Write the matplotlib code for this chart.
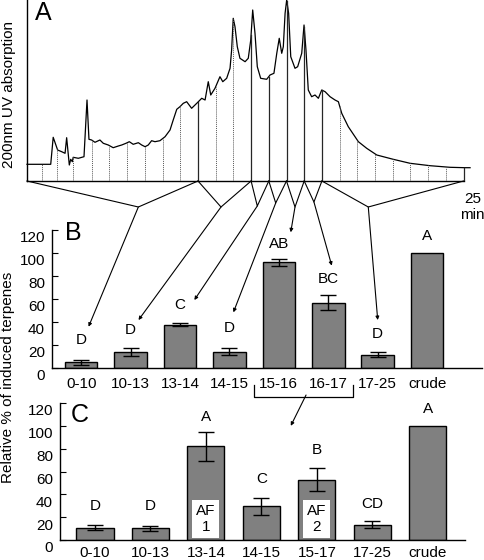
import numpy as np
import matplotlib
matplotlib.use("Agg")
import matplotlib.pyplot as plt
from matplotlib.transforms import ScaledTranslation

plt.rcParams['font.family'] = ['Liberation Sans', 'DejaVu Sans']
plt.rcParams['font.size'] = 11

# === Panel A: chromatogram (minutes, arbitrary absorbance) ===
trace_t = [0.34, 1.68, 1.82, 2.07, 2.30, 2.49, 2.58, 2.73, 2.81, 2.90, 2.95, 3.24, 3.56,
           3.73, 3.84, 3.99, 4.18, 4.46, 4.65, 4.93, 5.21, 5.50, 5.69, 5.93, 6.12, 6.34,
           6.63, 6.82, 7.01, 7.19, 7.38, 7.57, 7.85, 8.14, 8.42, 8.60, 8.80, 8.98, 9.17,
           9.36, 9.64, 9.93, 10.21, 10.40, 10.58, 10.72, 10.96, 11.24, 11.40, 11.62, 11.81,
           11.90, 11.99, 12.09, 12.22, 12.37, 12.66, 12.84, 12.98, 13.09, 13.22, 13.35,
           13.54, 13.88, 14.07, 14.29, 14.45, 14.59, 14.73, 14.82, 14.92, 15.01, 15.12,
           15.24, 15.48, 15.63, 15.86, 15.99, 16.10, 16.23, 16.42, 16.61, 16.80, 16.99,
           17.18, 17.46, 17.74, 17.93, 18.12, 18.49, 19.06, 19.53, 20.10, 21.03, 21.98,
           23.11, 24.24, 25.08, 25.37]
trace_a = [16.7, 16.7, 43.7, 31, 29.3, 27.7, 43.3, 16, 21.7, 19.3, 23.7, 22.7, 24.3,
           81, 41.7, 41, 38.7, 41, 37.7, 36, 33.3, 35, 36, 37.7, 39.3, 36.7,
           38.3, 36, 34.3, 36, 40.3, 39.3, 40.3, 44.3, 51, 61, 71.7, 74.3, 77.7,
           79.3, 72.7, 77.7, 82.7, 81, 99.3, 86, 92.7, 104.3, 99.3, 102.7, 112.7,
           131, 162.7, 154.3, 134.3, 122.7, 119.3, 122.7, 141, 171, 147.7, 114.3,
           102.7, 101.7, 106, 107.7, 127.7, 142.7, 127.7, 134.3, 167.7, 181, 167.7,
           124.3, 112.7, 114.3, 127.7, 156, 131, 91, 84.3, 86, 82.7, 91,
           89.3, 84.3, 81, 79.3, 67.7, 54.3, 39.3, 32.7, 26, 21.7, 17.7,
           15.3, 13.7, 13.3, 13.3]

frac_bounds = [0, 10, 13, 14, 15, 16, 17, 25]
dotted_t = [1.2, 2.05, 2.95, 4, 5, 6, 7, 8, 9, 11, 12, 18, 19, 20, 21, 22, 23, 24]
tip_t = [6.63, 11.30, 13.35, 14.39, 15.48, 16.55, 19.62]
tip_a = [-26, -26, -25, -22, -26, -21, -26]

# === Panel B ===
b_labels = ['0-10', '10-13', '13-14', '14-15', '15-16', '16-17', '17-25', 'crude']
b_vals = [5, 14, 37.7, 14.2, 91.9, 56.8, 11.6, 100]
b_err = [2, 3.5, 1.5, 3.3, 3.3, 6.4, 2, 0]
b_letters = ['D', 'D', 'C', 'D', 'AB', 'BC', 'D', 'A']
b_letter_y = [24.3, 33, 54.8, 34.5, 107.8, 77.4, 29.3, 115]
arrow_end_x = [0.15, 1.16, 2.29, 3.08, 4.24, 5.07, 6.0]
arrow_end_y = [35.9, 41.7, 59.1, 48.4, 118, 89, 41.7]

# === Panel C ===
c_labels = ['0-10', '10-13', '13-14', '14-15', '15-17', '17-25', 'crude']
c_vals = [10.9, 10.3, 82, 29.5, 52.8, 13.3, 100]
c_err = [2.2, 2.2, 12.7, 7.5, 10.3, 3.2, 0]
c_letters = ['D', 'D', 'A', 'C', 'B', 'CD', 'A']
c_letter_y = [29.5, 29.5, 107.7, 53.1, 78.8, 31.6, 114.4]
af_idx = [2, 4]
af_text = ['AF\n1', 'AF\n2']

BAR_COLOR = '#808080'

fig = plt.figure(figsize=(4.84, 5.60), dpi=100)

# ---------------- A ----------------
axA = fig.add_axes([27 / 484, 1 - 181 / 560, 443.6 / 484, 181 / 560])
axA.set_xlim(0.34, 25.4)
axA.set_ylim(0, 181)
for s in ['top', 'right', 'bottom']:
    axA.spines[s].set_visible(False)
axA.spines['left'].set_linewidth(1)
axA.set_xticks([])
axA.set_yticks([])
x0 = axA.get_xlim()[0]
axA.plot(trace_t, trace_a, color='k', lw=0.9, clip_on=False)
axA.plot([x0, frac_bounds[-1]], [0, 0], color='k', lw=1, clip_on=False)
for t in dotted_t:
    axA.plot([t, t], [0, np.interp(t, trace_t, trace_a)], color='0.35', lw=0.7,
             ls=(0, (1, 1)))
for t in frac_bounds[1:]:
    axA.plot([t, t], [0, np.interp(t, trace_t, trace_a)], color='0.15', lw=0.9)
axA.text(0.036, 0.928, 'A', transform=axA.transAxes, fontsize=18, ha='center', va='center')
axA.text(25.5, -26, '25\nmin', ha='center', va='center', fontsize=11, linespacing=1.25)

# fan lines
for i in range(len(tip_t)):
    lo = max(frac_bounds[i], x0)
    hi = frac_bounds[i + 1]
    axA.plot([lo, tip_t[i], hi], [0, tip_a[i], 0], color='k', lw=0.8, clip_on=False)

fig.text(9 / 484, 1 - 94 / 560, '200nm UV absorption', rotation=90, ha='center', va='center',
         fontsize=11)


def style_bar_axes(ax, labels, n_pad):
    for s in ['top', 'right']:
        ax.spines[s].set_visible(False)
    ax.spines['left'].set_linewidth(1)
    ax.spines['bottom'].set_linewidth(1)
    ax.set_ylim(0, 120)
    ax.set_yticks(range(0, 121, 20))
    ax.set_xticks(range(len(labels)))
    ax.set_xticklabels(labels)
    ax.tick_params(axis='y', direction='in', length=4, width=0.8, pad=5, labelsize=11)
    ax.tick_params(axis='x', length=0, pad=n_pad, labelsize=11)
    off = ScaledTranslation(0, -5 / 72, fig.dpi_scale_trans)
    for lab in ax.get_yticklabels():
        lab.set_transform(lab.get_transform() + off)


# ---------------- B ----------------
axB = fig.add_axes([52 / 484, 192 / 560, 430 / 484, 138 / 560])
xb = np.arange(len(b_vals))
axB.bar(xb, b_vals, width=0.66, color=BAR_COLOR, edgecolor='k', lw=1)
has = [i for i in xb if b_err[i] > 0]
axB.errorbar([xb[i] for i in has], [b_vals[i] for i in has], yerr=[b_err[i] for i in has],
             fmt='none', ecolor='k', elinewidth=1, capsize=5.5, capthick=1)
axB.set_xlim(-0.59, 8.11)
style_bar_axes(axB, b_labels, 6.5)
for i, (l, y) in enumerate(zip(b_letters, b_letter_y)):
    axB.text(i, y, l, ha='center', va='center', fontsize=11)
axB.text(0.049, 0.975, 'B', transform=axB.transAxes, fontsize=18, ha='center', va='center')

# arrows from fan tips to letters
for i in range(len(tip_t)):
    axB.annotate('', xy=(arrow_end_x[i], arrow_end_y[i]), xycoords='data',
                 xytext=(tip_t[i], tip_a[i]), textcoords=axA.transData,
                 arrowprops=dict(arrowstyle='-|>', color='k', lw=0.8, mutation_scale=5,
                                 shrinkA=0, shrinkB=0))

# bracket under 15-16 / 16-17
bl, br = 4 - 0.5, 5 + 0.5
axB.plot([bl, bl, br, br], [-15, -25, -25, -15], color='k', lw=0.9, clip_on=False)

# ---------------- C ----------------
axC = fig.add_axes([60 / 484, 20 / 560, 405 / 484, 137 / 560])
xc = np.arange(len(c_vals))
axC.bar(xc, c_vals, width=0.67, color=BAR_COLOR, edgecolor='k', lw=1)
has = [i for i in xc if c_err[i] > 0]
axC.errorbar([xc[i] for i in has], [c_vals[i] for i in has], yerr=[c_err[i] for i in has],
             fmt='none', ecolor='k', elinewidth=1, capsize=6, capthick=1)
axC.set_xlim(-0.63, 6.67)
style_bar_axes(axC, c_labels, 4.5)
for i, (l, y) in enumerate(zip(c_letters, c_letter_y)):
    axC.text(i, y, l, ha='center', va='center', fontsize=11)
for i, s in zip(af_idx, af_text):
    axC.text(i, 18.5, s, ha='center', va='center', fontsize=11, linespacing=1.15,
             bbox=dict(boxstyle='square,pad=0.25', fc='white', ec='none'))
axC.text(0.049, 0.912, 'C', transform=axC.transAxes, fontsize=18, ha='center', va='center')

axC.annotate('', xy=(3.53, 100), xycoords='data', xytext=(4.55, -23.5),
             textcoords=axB.transData,
             arrowprops=dict(arrowstyle='-|>', color='k', lw=0.8, mutation_scale=5,
                             shrinkA=0, shrinkB=0))

fig.text(8 / 484, 1 - 377 / 560, 'Relative % of induced terpenes', rotation=90,
         ha='center', va='center', fontsize=11)

fig.savefig('out.png', dpi=100)
